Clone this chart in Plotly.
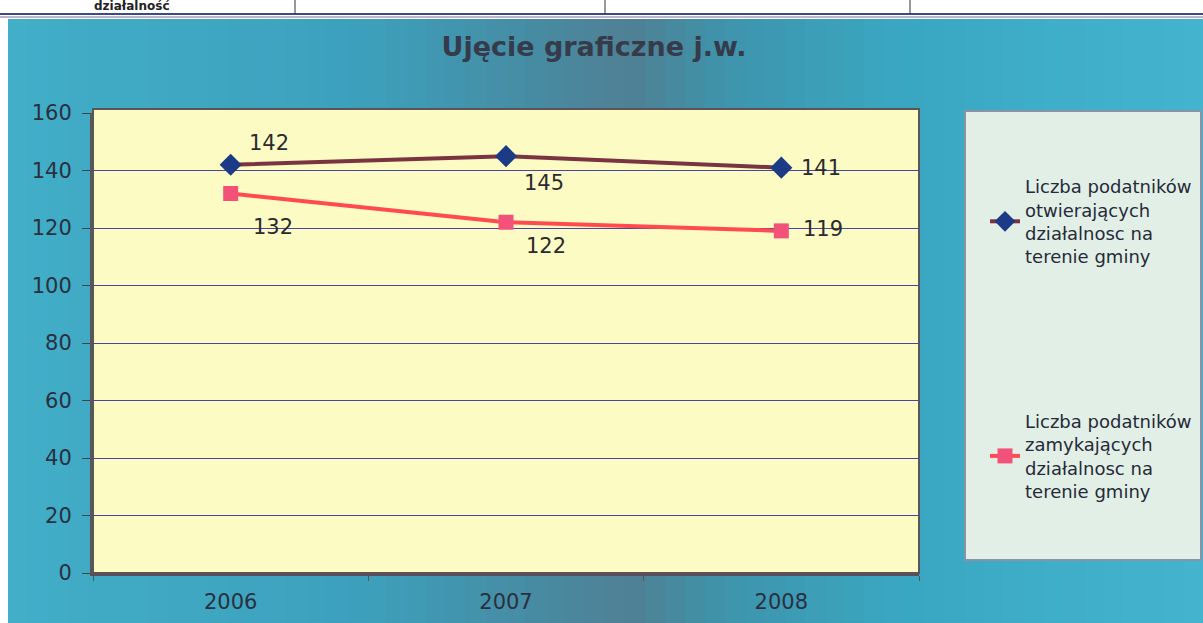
import plotly.graph_objects as go

# data
years = ["2006", "2007", "2008"]
otwierajace = [142, 145, 141]
zamykajace = [132, 122, 119]
y_ticks = [0, 20, 40, 60, 80, 100, 120, 140, 160]
name_open = "Liczba podatników<br>otwierających<br>działalnosc na<br>terenie gminy"
name_close = "Liczba podatników<br>zamykających<br>działalnosc na<br>terenie gminy"

W, H = 1203, 623
FONT = "DejaVu Sans"


def px(x):
    return x / W


def py(y):
    return 1 - y / H


fig = go.Figure()

fig.add_trace(go.Scatter(
    x=years, y=otwierajace, name=name_open, legendgroup="a",
    mode="lines+markers",
    line=dict(color="#7a3340", width=4),
    marker=dict(symbol="diamond", size=17, color="#1d3a86"),
))
fig.add_trace(go.Scatter(
    x=years, y=zamykajace, name=name_close, legendgroup="b",
    mode="lines+markers",
    line=dict(color="#ff4a52", width=4),
    marker=dict(symbol="square", size=15, color="#f2527a"),
))

# value labels, offsets (px) per point
label_font = dict(family=FONT, size=21, color="#2a2a30")
annotations = []
shift_open = [(38, 22), (38, -27), (40, 0)]
shift_close = [(42, -33), (40, -24), (42, 2)]
for vals, shifts in [(otwierajace, shift_open), (zamykajace, shift_close)]:
    for i, (v, (dx, dy)) in enumerate(zip(vals, shifts)):
        annotations.append(dict(x=i, y=v, xref="x", yref="y", text=str(v),
                                showarrow=False, xshift=dx, yshift=dy,
                                font=label_font))

# teal background built from vertical strips
stops = [(0.0, (66, 174, 200)), (0.3, (60, 160, 188)), (0.45, (72, 138, 160)),
         (0.52, (80, 128, 148)), (0.6, (62, 148, 172)), (0.75, (58, 167, 194)),
         (1.0, (68, 180, 206))]


def col_at(t):
    for (a, ca), (b, cb) in zip(stops, stops[1:]):
        if a <= t <= b:
            f = (t - a) / (b - a)
            c = [round(ca[i] + (cb[i] - ca[i]) * f) for i in range(3)]
            return "rgb(%d,%d,%d)" % tuple(c)
    return "rgb(%d,%d,%d)" % stops[-1][1]


shapes = []
n = 60
x0, x1 = px(8), 1.0
for i in range(n):
    a = x0 + (x1 - x0) * i / n
    b = x0 + (x1 - x0) * (i + 1) / n + 0.001
    shapes.append(dict(type="rect", xref="paper", yref="paper", x0=a, x1=min(b, 1),
                       y0=0, y1=py(19), line=dict(width=0),
                       fillcolor=col_at((i + 0.5) / n), layer="below"))

# table remnant at top
shapes.append(dict(type="line", xref="paper", yref="paper", x0=0, x1=1, y0=py(14), y1=py(14),
                   line=dict(color="#3a4a8a", width=2), layer="below"))
shapes.append(dict(type="line", xref="paper", yref="paper", x0=0, x1=1, y0=py(17), y1=py(17),
                   line=dict(color="#7a6a9a", width=1), layer="below"))
for vx in [295, 605, 910]:
    shapes.append(dict(type="line", xref="paper", yref="paper", x0=px(vx), x1=px(vx),
                       y0=1, y1=py(14), line=dict(color="#333", width=1), layer="below"))

# plot area fill
shapes.append(dict(type="rect", xref="paper", yref="paper", x0=px(93), x1=px(919),
                   y0=py(573), y1=py(109), fillcolor="#fdfbc4",
                   line=dict(color="#5d5456", width=2), layer="below"))
# legend box
shapes.append(dict(type="rect", xref="paper", yref="paper", x0=px(965), x1=px(1201),
                   y0=py(560), y1=py(111), fillcolor="#e2efe6",
                   line=dict(color="#8a93a6", width=2), layer="below"))

annotations.append(dict(text="<b>działalność</b>", xref="paper", yref="paper",
                        x=px(132), y=py(6), xanchor="center", yanchor="middle",
                        showarrow=False, font=dict(family=FONT, size=12, color="#222")))

fig.update_layout(
    template="none",
    width=W, height=H,
    margin=dict(l=0, r=0, t=0, b=0, autoexpand=False),
    paper_bgcolor="white",
    plot_bgcolor="rgba(0,0,0,0)",
    shapes=shapes,
    annotations=annotations,
    font=dict(family=FONT, color="#262a38"),
    xaxis=dict(
        domain=[px(93), px(919)], type="category", range=[-0.5, 2.5],
        showgrid=False, zeroline=False, automargin=False,
        showline=True, linecolor="#5b4f5a", linewidth=3,
        ticks="outside", tickson="boundaries", ticklen=5, tickcolor="#555",
        ticklabelstandoff=8,
        tickfont=dict(family=FONT, size=21, color="#2a3040"),
    ),
    yaxis=dict(
        domain=[py(573), py(113)], range=[0, 160], tickvals=y_ticks,
        showgrid=True, gridcolor="#4a44a0", gridwidth=1, zeroline=False, automargin=False,
        showline=True, linecolor="#5b5555", linewidth=3,
        ticks="outside", ticklen=8, tickcolor="#444",
        ticklabelstandoff=6,
        tickfont=dict(family=FONT, size=21, color="#2a3040"),
    ),
    title=dict(text="<b>Ujęcie graficzne j.w.</b>", x=px(594), xanchor="center",
               y=py(47), yanchor="middle",
               font=dict(family=FONT, size=27, color="#353b4a")),
    showlegend=True,
    legend=dict(
        x=px(985), xanchor="left", y=py(168), yanchor="top",
        bgcolor="rgba(0,0,0,0)", borderwidth=0,
        traceorder="grouped", tracegroupgap=138,
        font=dict(family=FONT, size=18, color="#262a38"),
        itemwidth=30,
    ),
)

# drop the browser's default 8px body margin so the figure sits at (0, 0)
fig.write_html("out.html", config={"displayModeBar": False},
               post_script="document.body.style.margin='0';")
